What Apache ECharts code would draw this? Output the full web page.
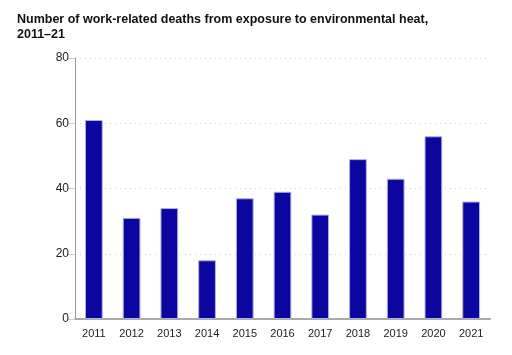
<!DOCTYPE html>
<html><head><meta charset="utf-8">
<script src="https://cdn.jsdelivr.net/npm/echarts@6/dist/echarts.min.js"></script>
<style>html,body{margin:0;padding:0;background:#fff}#c{width:512px;height:355px}</style>
</head><body><div id="c"></div>
<script>
const titleText = 'Number of work-related deaths from exposure to environmental heat,\n2011–21';
const categories = ['2011','2012','2013','2014','2015','2016','2017','2018','2019','2020','2021'];
const deaths = [61, 31, 34, 18, 37, 39, 32, 49, 43, 56, 36];
const yTicks = [0, 20, 40, 60, 80];

const chart = echarts.init(document.getElementById('c'), null, {renderer: 'canvas'});
chart.setOption({
  animation: false,
  backgroundColor: '#fff',
  title: {
    text: titleText, left: 12, top: 7,
    textStyle: {fontFamily: 'Liberation Sans, Arial, sans-serif', fontWeight: 'bold', fontSize: 12.5, color: '#111', lineHeight: 15}
  },
  grid: {left: 75, right: 22, top: 58, bottom: 36},
  xAxis: {
    type: 'category', data: categories,
    axisLine: {lineStyle: {color: '#aaa', width: 2}},
    axisTick: {show: false},
    axisLabel: {color: '#222', fontFamily: 'Liberation Sans, Arial, sans-serif', fontSize: 11, margin: 9}
  },
  yAxis: {
    type: 'value', min: yTicks[0], max: yTicks[yTicks.length-1], interval: 20,
    axisLine: {show: true, lineStyle: {color: '#999', width: 1}},
    axisTick: {show: true, length: 8, lineStyle: {color: '#c4d0e4'}},
    axisLabel: {color: '#222', fontFamily: 'Liberation Sans, Arial, sans-serif', fontSize: 12, margin: 6},
    splitLine: {lineStyle: {color: '#ccc', type: [1, 4]}}
  },
  series: [{
    type: 'bar', data: deaths, barWidth: '47%',
    itemStyle: {color: '#0b06a0', borderColor: '#b0b0dc', borderWidth: 1}
  }]
});
</script></body></html>
